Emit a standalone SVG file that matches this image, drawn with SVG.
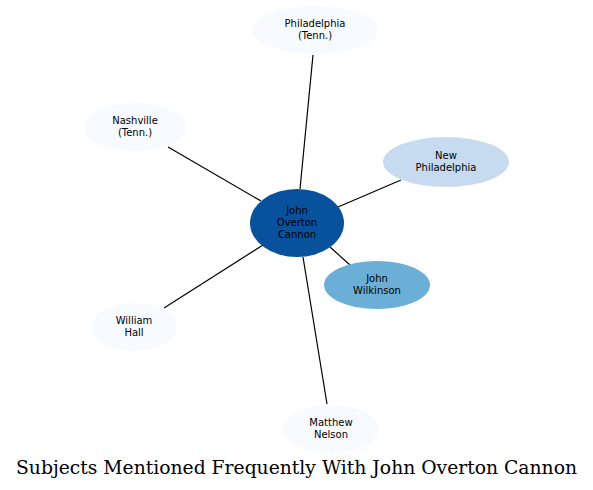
<svg xmlns="http://www.w3.org/2000/svg" width="593" height="490" viewBox="0 0 593 490">
<style>
.n text{font-family:"DejaVu Sans",sans-serif;font-size:10px;text-anchor:middle;fill:#000}
.e line{stroke:#000;stroke-width:1.2}
.t{font-family:"DejaVu Serif",serif;font-size:18px;text-anchor:middle;fill:#000}
</style>
<rect width="593" height="490" fill="#fff"/>
<g class="e">
<line x1="300" y1="189" x2="313" y2="55"/>
<line x1="261" y1="201" x2="168" y2="147"/>
<line x1="338" y1="207" x2="401" y2="180"/>
<line x1="330" y1="247" x2="350" y2="265"/>
<line x1="263" y1="245" x2="164" y2="308"/>
<line x1="303" y1="257" x2="327" y2="404"/>
</g>
<g id="center" class="n"><ellipse cx="297" cy="223" rx="47" ry="34" fill="#08519c"/><text x="297" y="214">John</text><text x="297" y="226">Overton</text><text x="297" y="238">Cannon</text></g>
<g id="philadelphia" class="n"><ellipse cx="315" cy="30" rx="63" ry="24" fill="#f7fbff"/><text x="315" y="27">Philadelphia</text><text x="315" y="39">(Tenn.)</text></g>
<g id="nashville" class="n"><ellipse cx="135" cy="127" rx="51" ry="24" fill="#f7fbff"/><text x="135" y="124">Nashville</text><text x="135" y="136">(Tenn.)</text></g>
<g id="newphiladelphia" class="n"><ellipse cx="446" cy="162" rx="63" ry="25" fill="#c6dbef"/><text x="446" y="159">New</text><text x="446" y="171">Philadelphia</text></g>
<g id="wilkinson" class="n"><ellipse cx="377" cy="285" rx="53" ry="24" fill="#6baed6"/><text x="377" y="282">John</text><text x="377" y="294">Wilkinson</text></g>
<g id="hall" class="n"><ellipse cx="134" cy="327" rx="43" ry="24" fill="#f7fbff"/><text x="134" y="324">William</text><text x="134" y="336">Hall</text></g>
<g id="nelson" class="n"><ellipse cx="331" cy="429" rx="48" ry="24" fill="#f7fbff"/><text x="331" y="426">Matthew</text><text x="331" y="438">Nelson</text></g>
<text class="t" x="296.5" y="474" textLength="561" lengthAdjust="spacingAndGlyphs">Subjects Mentioned Frequently With John Overton Cannon</text>
</svg>
